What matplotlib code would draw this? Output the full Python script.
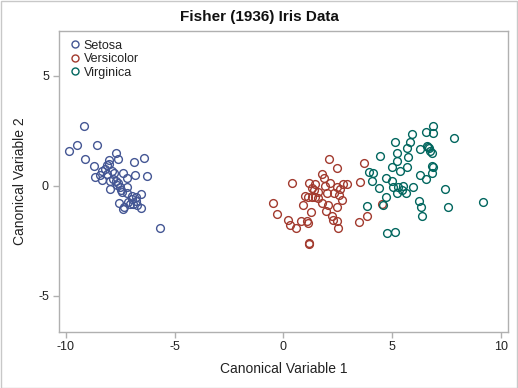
import matplotlib
matplotlib.use("Agg")
import matplotlib.pyplot as plt

plt.rcParams['font.family'] = ['Liberation Sans', 'DejaVu Sans']

species = ["Setosa", "Versicolor", "Virginica"]
colors = ["#445694", "#A23A2E", "#01665E"]

setosa_x = [-9.17, -9.48, -9.86, -8.58, -9.14, -7.71, -8.02, -7.59, -6.41, -6.85,
            -8.69, -8.10, -8.35, -7.89, -7.77, -7.39, -8.12, -8.65, -7.20, -6.82,
            -6.26, -8.33, -7.97, -8.43, -7.66, -7.51, -7.20, -7.97, -7.47, -7.18,
            -6.56, -6.78, -6.97, -7.13, -6.78, -6.72, -7.57, -7.33, -7.36, -6.56,
            -6.90, -5.67, -8.0, -7.85, -7.6, -7.4, -6.95, -8.2, -7.05, -7.7]
setosa_y = [2.73, 1.85, 1.59, 1.85, 1.23, 1.49, 1.17, 1.21, 1.26, 1.08,
            0.91, 0.94, 0.67, 0.68, 0.59, 0.59, 0.53, 0.41, 0.36, 0.49,
            0.45, 0.26, 0.23, 0.49, 0.03, -0.07, -0.07, -0.14, -0.20, -0.32,
            -0.39, -0.53, -0.62, -0.73, -0.68, -0.88, -0.80, -0.95, -1.07, -1.00,
            -0.83, -1.91, 1.0, 0.3, 0.1, -0.3, -0.45, 0.75, -0.85, 0.2]

versicolor_x = [2.12, 2.47, 1.79, 1.89, 0.40, 1.20, 1.46, 2.16, 2.75, 2.94,
                3.54, 3.73, 1.33, 1.41, 2.46, 2.61, 2.00, 2.33, 1.00, 1.15,
                1.31, 1.46, 1.61, 2.58, -0.46, 0.92, 1.77, 2.04, 2.69, 2.46,
                -0.31, 1.27, 1.96, 2.24, 2.30, 2.46, 2.50, 0.23, 0.31, 0.58,
                0.80, 1.08, 1.12, 1.18, 1.18, 3.50, 3.84, 4.53, 1.90, 1.60]
versicolor_y = [1.20, 0.80, 0.52, 0.34, 0.11, 0.11, 0.06, 0.11, 0.06, 0.06,
                0.17, 1.05, -0.12, -0.20, -0.07, -0.16, -0.32, -0.32, -0.47, -0.50,
                -0.50, -0.53, -0.57, -0.42, -0.77, -0.88, -0.80, -0.88, -0.65, -0.95,
                -1.29, -1.18, -1.14, -1.38, -1.56, -1.59, -1.94, -1.56, -1.79, -1.91,
                -1.60, -1.59, -1.71, -2.62, -2.66, -1.64, -1.38, -0.85, 0.00, -0.30]

virginica_x = [6.87, 6.56, 6.87, 7.87, 5.91, 5.14, 5.83, 5.68, 6.29, 6.62,
               6.67, 6.75, 6.83, 4.45, 5.24, 5.75, 5.22, 4.99, 5.37, 5.68,
               6.83, 6.87, 6.83, 6.29, 6.56, 3.96, 4.11, 4.10, 4.71, 5.01,
               5.29, 5.06, 5.52, 5.45, 5.22, 5.63, 5.98, 4.39, 4.71, 7.44,
               9.20, 6.24, 6.33, 7.59, 6.37, 3.84, 4.78, 5.14, 4.59, 6.70]
virginica_y = [2.73, 2.45, 2.41, 2.15, 2.35, 2.00, 2.00, 1.70, 1.65, 1.80,
               1.75, 1.59, 1.47, 1.36, 1.47, 1.29, 1.14, 0.84, 0.67, 0.84,
               0.90, 0.84, 0.59, 0.49, 0.30, 0.64, 0.56, 0.21, 0.33, 0.23,
               -0.04, -0.04, -0.01, -0.20, -0.35, -0.32, -0.07, -0.12, -0.50, -0.16,
               -0.73, -0.68, -0.95, -0.97, -1.38, -0.92, -2.14, -2.10, -0.86, 1.70]

xs = [setosa_x, versicolor_x, virginica_x]
ys = [setosa_y, versicolor_y, virginica_y]

x_ticks = [-10, -5, 0, 5, 10]
y_ticks = [-5, 0, 5]

fig = plt.figure(figsize=(5.18, 3.88), dpi=100)
ax = fig.add_axes([0.1133, 0.1451, 0.8680, 0.7750])

for name, c, x, y in zip(species, colors, xs, ys):
    ax.plot(x, y, linestyle='none', marker='o', markersize=5.6,
            markerfacecolor='none', markeredgecolor=c, markeredgewidth=1.0,
            label=name)

ax.set_xlim(-10.33, 10.35)
ax.set_ylim(-6.64, 7.03)
ax.set_xticks(x_ticks)
ax.set_yticks(y_ticks)
ax.set_xticklabels([str(t) for t in x_ticks])
ax.set_yticklabels([str(t) for t in y_ticks])

for s in ax.spines.values():
    s.set_color('#b0b0b0')
    s.set_linewidth(1.0)
ax.tick_params(direction='out', length=4, width=1.0, color='#b0b0b0',
               labelsize=9, labelcolor='#222222', pad=3)

ax.set_xlabel("Canonical Variable 1", fontsize=10, color='#222222', labelpad=6)
ax.set_ylabel("Canonical Variable 2", fontsize=10, color='#222222', labelpad=8)
fig.text(0.5, 0.955, "Fisher (1936) Iris Data", ha='center', va='center',
         fontsize=11, fontweight='bold', color='#111111')

leg = ax.legend(loc='upper left', frameon=False, fontsize=9, handletextpad=0.1,
                handlelength=1.2, borderaxespad=0.3, labelspacing=0.12,
                markerscale=0.9)
for t in leg.get_texts():
    t.set_color('#222222')

# figure border
rect = plt.Rectangle((0.001, 0.001), 0.997, 0.996, transform=fig.transFigure,
                     fill=False, edgecolor='#c8c8c8', linewidth=1.0)
fig.patches.append(rect)

fig.savefig("out.png", dpi=100)
